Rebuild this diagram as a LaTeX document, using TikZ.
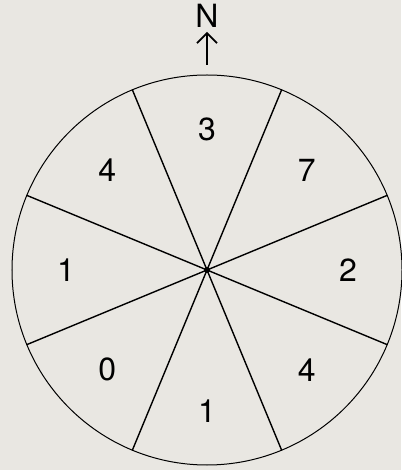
\documentclass[tikz,border=0pt]{standalone}
\usepackage{fontspec}
\setmainfont{TeX Gyre Heros}
\usetikzlibrary{arrows.meta,positioning}
\definecolor{paper}{RGB}{233,231,226}

\tikzset{
  digit/.style={font=\fontsize{32}{38}\selectfont, inner sep=0pt},
  spoke/.style={line width=1.4pt, line cap=round}
}

\begin{document}
\begin{tikzpicture}[x=1pt,y=1pt]
\fill[paper] (-207,-200) rectangle (194,270);
\useasboundingbox (-207,-200) rectangle (194,270);

\coordinate (c) at (0,0);
\draw[line width=1pt] (c) circle (195);

% the eight sectors
\foreach \a in {22.5,67.5,112.5,157.5,202.5,247.5,292.5,337.5}
  \draw[spoke] (c) -- (\a:195);
\node (hub) [circle, fill=black, inner sep=0pt, minimum size=6pt] at (c) {};

% sector values
\foreach \a/\v/\n in {90/3/s1,45/7/s2,0/2/s3,-45/4/s4,-90/1/s5,-135/0/s6,180/1/s7,135/4/s8}
  \node (\n) [digit] at (\a:141) {\v};

% north marker
\node (north) [digit] at (0,254) {N};
\coordinate (tail) at (0,205);
\draw[line width=1.8pt, -{Straight Barb[length=10pt,width=20pt,line width=1.8pt]}, shorten >=4pt] (tail) -- (north.south);
\end{tikzpicture}
\end{document}
